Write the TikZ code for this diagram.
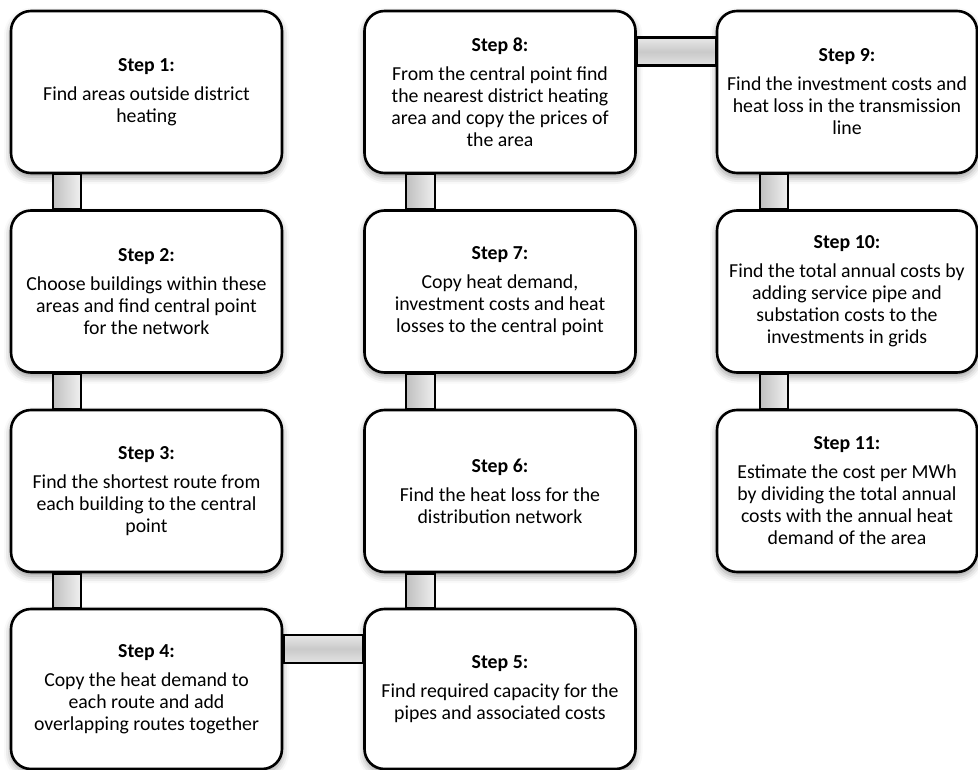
\documentclass[tikz,border=0pt]{standalone}
\usepackage{fontspec}
\setmainfont{Carlito}
\usetikzlibrary{shadows.blur}
\tikzset{
  stepbox/.style={draw=black, line width=2.6pt, rounded corners=20pt, fill=white,
    minimum width=#1, minimum height=162pt, align=center, inner sep=4pt,
    font=\fontsize{19.8}{22}\selectfont,
    blur shadow={shadow xshift=0pt, shadow yshift=-4pt, shadow blur radius=7pt, shadow opacity=40}},
  stepbox/.default=271pt,
  vbar/.style={draw=black, line width=2.4pt, left color=gray!50, right color=gray!12},
  hbar/.style={draw=black, line width=2.4pt, top color=gray!18, bottom color=gray!22, middle color=gray!42},
}
\newcommand{\steptitle}[1]{\textbf{Step #1:}\\[7pt]}
\begin{document}
\begin{tikzpicture}[x=1pt,y=-1pt]
\useasboundingbox (0,0) rectangle (978,770);
% column 1
\node[stepbox] (s1) at (146.5,92) {\steptitle{1}Find areas outside district\\heating};
\node[stepbox] (s2) at (146.5,291.5) {\steptitle{2}Choose buildings within these\\areas and find central point\\for the network};
\node[stepbox] (s3) at (146.5,491) {\steptitle{3}Find the shortest route from\\each building to the central\\point};
\node[stepbox, minimum height=160pt] (s4) at (146.5,689) {\steptitle{4}Copy the heat demand to\\each route and add\\overlapping routes together};
% column 2
\node[stepbox, minimum height=160pt] (s5) at (500,689) {\steptitle{5}Find required capacity for the\\pipes and associated costs};
\node[stepbox] (s6) at (500,491) {\steptitle{6}Find the heat loss for the\\distribution network};
\node[stepbox] (s7) at (500,291.5) {\steptitle{7}Copy heat demand,\\investment costs and heat\\losses to the central point};
\node[stepbox] (s8) at (500,92) {\steptitle{8}From the central point find\\the nearest district heating\\area and copy the prices of\\the area};
% column 3
\node[stepbox=260pt] (s9) at (847,92) {\steptitle{9}Find the investment costs and\\heat loss in the transmission\\line};
\node[stepbox=260pt] (s10) at (847,291.5) {\steptitle{10}Find the total annual costs by\\adding service pipe and\\substation costs to the\\investments in grids};
\node[stepbox=260pt] (s11) at (847,491) {\steptitle{11}Estimate the cost per MWh\\by dividing the total annual\\costs with the annual heat\\demand of the area};
% vertical connectors
\draw[vbar] ([xshift=43pt]s1.south west) rectangle ([xshift=71pt]s2.north west);
\draw[vbar] ([xshift=43pt]s2.south west) rectangle ([xshift=71pt]s3.north west);
\draw[vbar] ([xshift=43pt]s3.south west) rectangle ([xshift=71pt]s4.north west);
\draw[vbar] ([xshift=43pt]s6.south west) rectangle ([xshift=72pt]s5.north west);
\draw[vbar] ([xshift=43pt]s7.south west) rectangle ([xshift=72pt]s6.north west);
\draw[vbar] ([xshift=43pt]s8.south west) rectangle ([xshift=72pt]s7.north west);
\draw[vbar] ([xshift=44pt]s9.south west) rectangle ([xshift=72pt]s10.north west);
\draw[vbar] ([xshift=44pt]s10.south west) rectangle ([xshift=72pt]s11.north west);
% horizontal connectors
\draw[hbar] ([yshift=-27pt]s4.north east) rectangle ([yshift=-55pt]s5.north west);
\draw[hbar] ([yshift=-28pt]s8.north east) rectangle ([yshift=-56pt]s9.north west);
\end{tikzpicture}
\end{document}
